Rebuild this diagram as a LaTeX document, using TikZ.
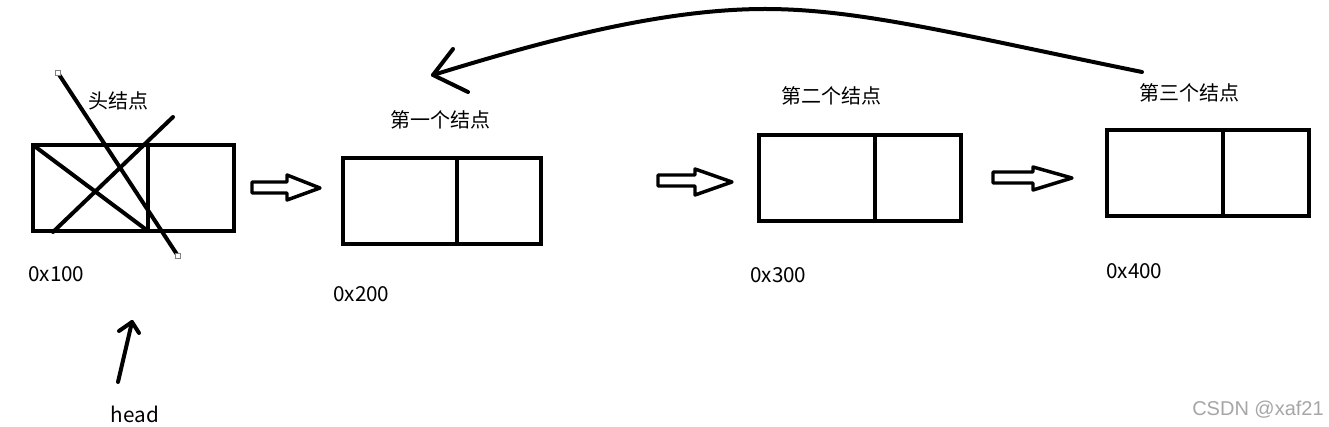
\documentclass[tikz,border=0pt]{standalone}
\usepackage{fontspec}
\setmainfont{Noto Sans CJK SC}
\newfontfamily\wmfont{Liberation Sans}
\begin{document}
\begin{tikzpicture}[x=0.75pt,y=-0.75pt,
  cell/.style={draw=black,line width=3pt,rectangle,inner sep=0pt,outer sep=0pt,minimum height=64.5pt},
  thick line/.style={line width=3pt,line cap=round},
  blk/.style={draw=black,fill=white,line width=2.6pt,line join=round},
  lbl/.style={font=\fontsize{15pt}{17pt}\selectfont,inner sep=0pt},
  addr/.style={font=\fontsize{15.5pt}{17pt}\selectfont,inner sep=0pt,anchor=west},
  handle/.style={draw=gray,fill=white,line width=0.6pt,minimum size=3.5pt,inner sep=0pt,rectangle}
]
\fill[white] (0,0) rectangle (1329,427);
\useasboundingbox (0,0) rectangle (1329,427);

% boxes
\node[cell,minimum width=86.25pt,anchor=north west] (b1l) at (33,145) {};
\node[cell,minimum width=64.5pt,anchor=west] (b1r) at (b1l.east) {};
\node[cell,minimum width=85.5pt,anchor=north west] (b2l) at (343,158) {};
\node[cell,minimum width=63pt,anchor=west] (b2r) at (b2l.east) {};
\node[cell,minimum width=87pt,anchor=north west] (b3l) at (759,135) {};
\node[cell,minimum width=64.5pt,anchor=west] (b3r) at (b3l.east) {};
\node[cell,minimum width=87pt,anchor=north west] (b4l) at (1107,130) {};
\node[cell,minimum width=64.5pt,anchor=west] (b4r) at (b4l.east) {};

% crossing lines over head node
\draw[thick line] (b1l.north west) -- (b1l.south east);
\coordinate (xa) at (53,232);
\coordinate (xb) at (173,117);
\draw[thick line] (xa) -- (xb);
\coordinate (ya) at (58,73);
\coordinate (yb) at (178,256);
\draw[thick line,line cap=butt] (ya) -- (yb);
\node[handle] (hya) at (ya) {};
\node[handle] (hyb) at (yb) {};

% labels
\node[lbl] (t1) at (118,101) {头结点};
\node[lbl] (t2) at (440,120) {第一个结点};
\node[lbl] (t3) at (831,96) {第二个结点};
\node[lbl] (t4) at (1189,93) {第三个结点};

\node[addr] (a1) at (28,274) {0x100};
\node[addr] (a2) at (333,294) {0x200};
\node[addr] (a3) at (750,275) {0x300};
\node[addr] (a4) at (1106,271) {0x400};

% block arrows
\draw[blk] (252,182) -- (287,182) -- (287,175) -- (320,188) -- (287,200) -- (287,193) -- (252,193) -- cycle;
\draw[blk] (658,175) -- (695,175) -- (695,169) -- (732,182) -- (695,195) -- (695,186) -- (658,186) -- cycle;
\draw[blk] (993,172) -- (1033,172) -- (1033,167) -- (1072,178) -- (1033,190) -- (1033,183) -- (993,183) -- cycle;

% curved arrow back
\coordinate (cs) at (1142,72);
\coordinate (ce) at (433,75);
\draw[thick line,line join=round] (cs) .. controls (960,35) and (860,9) .. (765,9)
   .. controls (660,9) and (540,42) .. (ce);
\draw[thick line,line join=round] (453,49) -- (ce) -- (468,92);

% head pointer
\node[addr,anchor=center] (hd) at (135,414) {head};
\coordinate (hs) at (118,382);
\coordinate (ht) at (132,322);
\draw[thick line] (hs) -- (ht);
\draw[thick line,line join=round] (119,331) -- (ht) -- (139,333);

% watermark
\node[font=\wmfont\fontsize{15pt}{17pt}\selectfont,text=black!35,inner sep=0pt] (wm) at (1258,410) {CSDN @xaf21};
\end{tikzpicture}
\end{document}
